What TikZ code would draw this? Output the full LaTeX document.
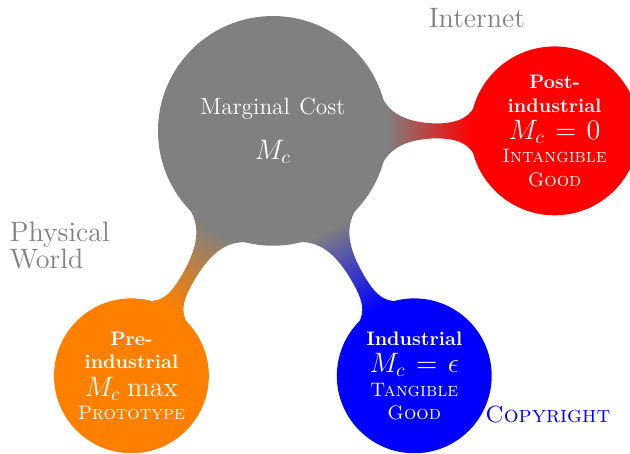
\documentclass[tikz,border=0pt]{standalone}
\usepackage{amsmath,amssymb}
\usepackage{tikz}
\usetikzlibrary{mindmap,positioning}

\begin{document}
\begin{tikzpicture}[mindmap,
  rootconcept/.style={concept, concept color=gray, text=white, minimum size=4.1cm, text width=3.5cm, align=center, font=\Large},
  childconcept/.style={concept, text=white, minimum size=2.75cm, text width=2.1cm, align=center, font=\normalsize},
  note/.style={text=gray, font=\Large, text width={}, minimum size=0pt, align=left, inner sep=0pt}]
\useasboundingbox (-4.92,-5.82) rectangle (6.44,2.36);

\node (mc) [rootconcept] at (0,0) {{\large Marginal Cost}\\[5pt] $M_c$};
\node (post) [childconcept, concept color=red] at (0:5.08cm) {\textbf{Post-industrial}\\[2pt] {\Large $M_c = 0$}\\ \textsc{Intangible Good}};
\node (ind) [childconcept, concept color=blue] at (-60:5.1cm) {\textbf{Industrial}\\[2pt] {\Large $M_c = \epsilon$}\\ \textsc{Tangible Good}};
\node (pre) [childconcept, concept color=orange] at (-120:5.1cm) {\textbf{Pre-industrial}\\[2pt] {\Large $M_c$ max}\\ \textsc{Prototype}};

\path (mc) to[circle connection bar switch color=from (gray) to (red)] (post);
\path (mc) to[circle connection bar switch color=from (gray) to (blue)] (ind);
\path (mc) to[circle connection bar switch color=from (gray) to (orange)] (pre);

\node (net) [note] at (3.68,2.04) {Internet};
\node (phys) [note, anchor=west] at (-4.74,-2.07) {Physical\\[-4pt] World};
\node (copy) [text=blue, font=\large\scshape, text width={}, minimum size=0pt, inner sep=0pt] at (4.96,-5.12) {Copyright};
\end{tikzpicture}
\end{document}
